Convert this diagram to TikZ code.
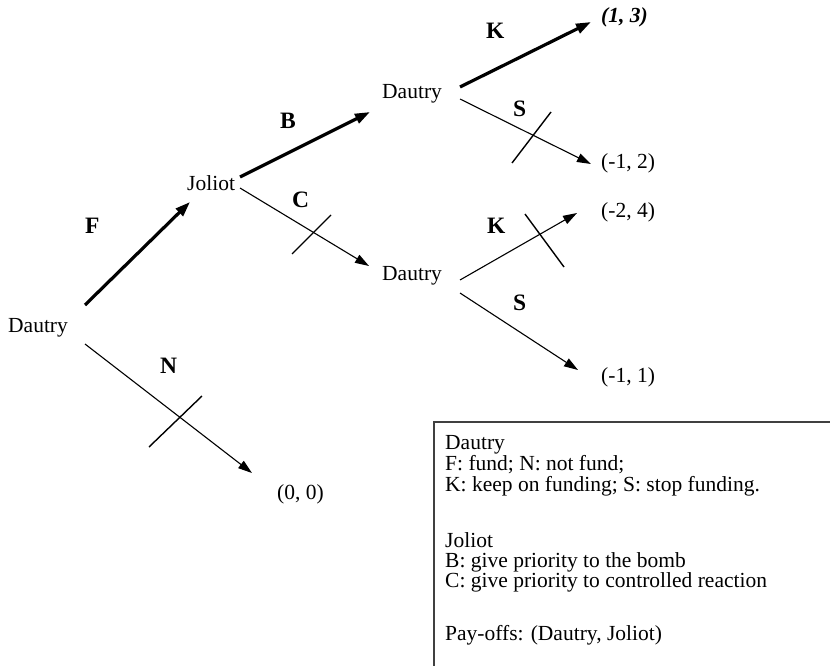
\documentclass[tikz,border=0pt]{standalone}
\usepackage{fontspec}
\setmainfont{Liberation Serif}
\usetikzlibrary{arrows.meta}
\begin{document}
\begin{tikzpicture}[x=1pt,y=-1pt,
  txt/.style={anchor=base west,inner sep=0pt,font=\fontsize{21.5}{21.5}\selectfont},
  lbl/.style={anchor=base west,inner sep=0pt,font=\fontsize{23.5}{23.5}\selectfont\bfseries},
  thickarrow/.style={line width=3.2pt,-{Triangle[length=15pt,width=10pt]}},
  thinarrow/.style={line width=1.1pt,-{Triangle[length=14pt,width=9pt]}},
  crossline/.style={line width=1.4pt},
  legend/.style={line width=1.3pt, draw=black!75}]
\useasboundingbox (0,0) rectangle (830,666);

% player / payoff texts
\node[txt] (root) at (8,332) {Dautry};
\node[txt] (joliot) at (187,190) {Joliot};
\node[txt] (dtop) at (382,99) {Dautry};
\node[txt] (dlow) at (382,280) {Dautry};
\node[txt,font=\fontsize{21.5}{21.5}\selectfont\bfseries\itshape] (p13) at (601,23) {(1, 3)};
\node[txt] (pm12) at (601,168) {(-1, 2)};
\node[txt] (pm24) at (601,217) {(-2, 4)};
\node[txt] (pm11) at (601,382) {(-1, 1)};
\node[txt] (p00) at (277,499) {(0, 0)};

% move labels
\node[lbl] (lF) at (85,233) {F};
\node[lbl] (lN) at (160,373) {N};
\node[lbl] (lB) at (280,129) {B};
\node[lbl] (lC) at (292,207) {C};
\node[lbl] (lKt) at (486,39) {K};
\node[lbl] (lSt) at (513,117) {S};
\node[lbl] (lKl) at (487,233) {K};
\node[lbl] (lSl) at (513,310) {S};

% connector ends
\coordinate (rootF) at (85,305);
\coordinate (rootN) at (85,344);
\coordinate (tipF) at (190,202);
\coordinate (tipN) at (252,473);
\coordinate (jB) at (240,177);
\coordinate (jC) at (240,188);
\coordinate (tipB) at (370,112);
\coordinate (tipC) at (369,266);
\coordinate (dtK) at (460,87);
\coordinate (dtS) at (460,99);
\coordinate (tipKt) at (591,22);
\coordinate (tipSt) at (591,164);
\coordinate (dlK) at (460,280);
\coordinate (dlS) at (460,293);
\coordinate (tipKl) at (577,213);
\coordinate (tipSl) at (578,370);

\draw[thickarrow] (rootF) -- (tipF);
\draw[thinarrow] (rootN) -- (tipN);
\draw[thickarrow] (jB) -- (tipB);
\draw[thinarrow] (jC) -- (tipC);
\draw[thickarrow] (dtK) -- (tipKt);
\draw[thinarrow] (dtS) -- (tipSt);
\draw[thinarrow] (dlK) -- (tipKl);
\draw[thinarrow] (dlS) -- (tipSl);

% crossing-out marks
\coordinate (xNa) at (149,447); \coordinate (xNb) at (202,396);
\coordinate (xCa) at (292,254); \coordinate (xCb) at (331,215);
\coordinate (xSa) at (512,163); \coordinate (xSb) at (551,112);
\coordinate (xKa) at (525,214); \coordinate (xKb) at (564,267);
\draw[crossline] (xNa) -- (xNb);
\draw[crossline] (xCa) -- (xCb);
\draw[crossline] (xSa) -- (xSb);
\draw[crossline] (xKa) -- (xKb);

% legend box
\coordinate (bx1) at (434,666);
\coordinate (bx2) at (434,422);
\coordinate (bx3) at (832,422);
\draw[legend] (bx1) -- (bx2) -- (bx3);
\node[txt] (g1) at (445,449) {Dautry};
\node[txt] (g2) at (445,470) {F: fund; N: not fund;};
\node[txt] (g3) at (445,491) {K: keep on funding; S: stop funding.};
\node[txt] (g4) at (445,547) {Joliot};
\node[txt] (g5) at (445,567) {B: give priority to the bomb};
\node[txt] (g6) at (445,587) {C: give priority to controlled reaction};
\node[txt] (g7) at (445,640) {Pay-offs: (Dautry, Joliot)};
\end{tikzpicture}
\end{document}
